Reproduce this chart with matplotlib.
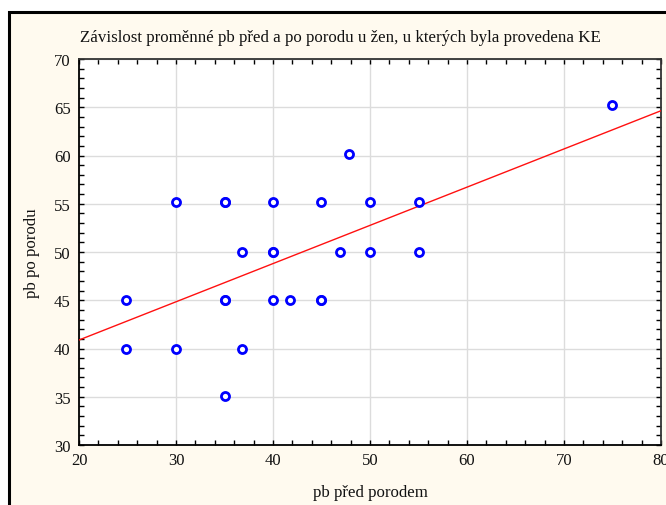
import numpy as np
import matplotlib

matplotlib.use('Agg')
import matplotlib.pyplot as plt  # noqa: E402
from matplotlib.patches import Rectangle  # noqa: E402
from matplotlib.ticker import MultipleLocator  # noqa: E402

# pb before / after delivery (women with KE)
pb_pred = [24.8, 24.8, 30, 30, 35, 35, 35, 35, 35, 36.8, 36.8, 40, 40, 40, 40, 41.8,
           45, 45, 45, 46.9, 47.8, 50, 50, 55, 55, 74.9]
pb_po = [45, 40, 55.2, 40, 55.2, 55.2, 45, 45, 35.1, 50, 40, 55.2, 50, 50, 45, 45,
         55.2, 45, 45, 50, 60.2, 55.2, 50, 55.2, 50, 65.2]

# linear fit shown in the chart: pb_po = intercept + slope * pb_pred
fit_intercept = 32.96
fit_slope = 0.396

title = 'Závislost proměnné pb před a po porodu u žen, u kterých byla provedena KE'
x_label = 'pb před porodem'
y_label = 'pb po porodu'

W, H = 666, 506
plt.rcParams['font.family'] = ['Liberation Serif', 'DejaVu Serif']

fig = plt.figure(figsize=(W / 100, H / 100), dpi=100, facecolor='white')

# cream panel with black frame, kept behind the axes
frame = Rectangle((9 / W, -0.05), 1.1, 1 - 13 / H + 0.05,
                  transform=fig.transFigure, facecolor='#fffaef',
                  edgecolor='black', linewidth=2.2, zorder=-10)
fig.add_artist(frame)

ax = fig.add_axes([79 / W, (H - 446) / H, 582 / W, 386 / H])
ax.set_zorder(1)
ax.set_facecolor('white')

ax.set_xlim(20, 80)
ax.set_ylim(30, 70)
ax.xaxis.set_major_locator(MultipleLocator(10))
ax.xaxis.set_minor_locator(MultipleLocator(2))
ax.yaxis.set_major_locator(MultipleLocator(5))
ax.yaxis.set_minor_locator(MultipleLocator(1))
ax.grid(True, which='major', color='#dcdcdc', linewidth=1.0)
ax.set_axisbelow(True)

ax.tick_params(which='both', direction='in', top=True, right=True,
               length=3.5, width=1.0, color='black', labelsize=12,
               labelcolor='#111111')
ax.tick_params(axis='x', pad=5)
ax.tick_params(axis='y', pad=6)
for side, sp in ax.spines.items():
    sp.set_linewidth(1.3)
    sp.set_color('black' if side in ('left', 'bottom') else '#333333')

xs = np.array([20, 80])
ax.plot(xs, fit_intercept + fit_slope * xs, color='#ff1010', lw=1.0,
        zorder=3, clip_on=True)
ax.plot(pb_pred, pb_po, linestyle='none', marker='o', markersize=5.8,
        markerfacecolor='white', markeredgecolor='#0000ff',
        markeredgewidth=2.0, zorder=4)

fig.text(80 / W, 1 - 38 / H, title, fontsize=12.2, va='center', ha='left',
         color='#111111')
fig.text(370 / W, 1 - 493 / H, x_label, fontsize=12.2, va='center',
         ha='center', color='#111111')
fig.text(32 / W, 1 - 253 / H, y_label, fontsize=12.2, va='center',
         ha='center', rotation=90, color='#111111')

fig.savefig('out.png', dpi=100)
